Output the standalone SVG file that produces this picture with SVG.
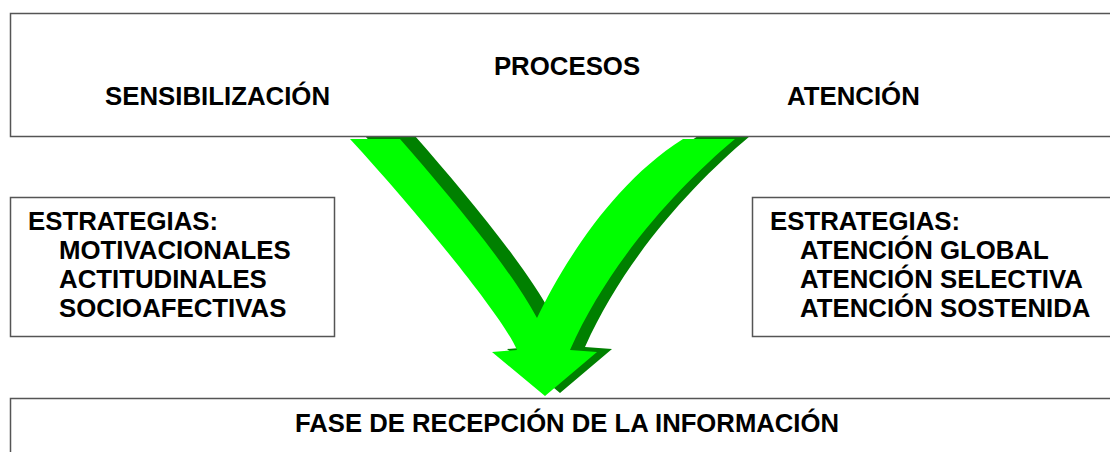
<svg xmlns="http://www.w3.org/2000/svg" width="1110" height="452" viewBox="0 0 1110 452">
<style>
.box{fill:#fff;stroke:#555;stroke-width:1.5}
.t{font-family:"Liberation Sans",Arial,sans-serif;font-weight:bold;font-size:25.8px;fill:#000}
</style>
<defs>
<path id="arrowShape" d="M350,139 L400,139 C450,196 510,268 537,318 C560,270 610,185 683,139 L735,139 C680,185 610,260 570,350 L597,352 L545,396 L492,352 L517,350 C505,320 420,215 350,139 Z"/>
</defs>
<rect width="1110" height="452" fill="#fff"/>
<g id="connectors">
<use href="#arrowShape" fill="#008000" transform="translate(15,-3)"/>
<use href="#arrowShape" fill="#00FF00"/>
</g>
<g id="procesos">
<rect class="box" x="10.5" y="13.5" width="1120" height="123"/>
<text class="t" x="567" y="75" text-anchor="middle">PROCESOS</text>
<text class="t" x="105" y="105">SENSIBILIZACIÓN</text>
<text class="t" x="787" y="105">ATENCIÓN</text>
</g>
<g id="estrategias-izq">
<rect class="box" x="10.5" y="197.5" width="324" height="139"/>
<text class="t" x="28" y="230">ESTRATEGIAS:</text>
<text class="t" x="59" y="259">MOTIVACIONALES</text>
<text class="t" x="59" y="288">ACTITUDINALES</text>
<text class="t" x="59" y="317">SOCIOAFECTIVAS</text>
</g>
<g id="estrategias-der">
<rect class="box" x="752.5" y="197.5" width="400" height="139"/>
<text class="t" x="770" y="230">ESTRATEGIAS:</text>
<text class="t" x="800" y="259">ATENCIÓN GLOBAL</text>
<text class="t" x="800" y="288">ATENCIÓN SELECTIVA</text>
<text class="t" x="800" y="317">ATENCIÓN SOSTENIDA</text>
</g>
<g id="fase">
<rect class="box" x="10.5" y="398.5" width="1120" height="100"/>
<text class="t" x="295" y="432" font-size="26.5" textLength="544" lengthAdjust="spacingAndGlyphs">FASE DE RECEPCIÓN DE LA INFORMACIÓN</text>
</g>
</svg>
